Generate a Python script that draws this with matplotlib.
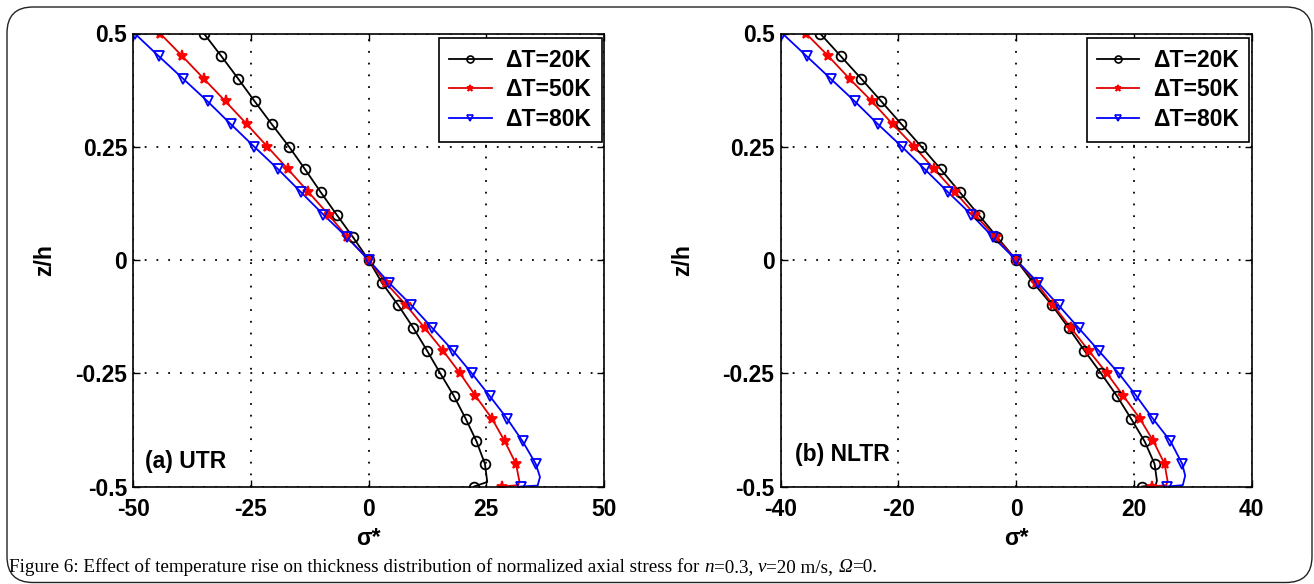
import matplotlib
matplotlib.use("Agg")
import matplotlib.pyplot as plt
import matplotlib.patches as mpatches
from matplotlib.transforms import IdentityTransform
from matplotlib.ticker import FixedLocator, FixedFormatter

# ---------------- data ----------------
z = [0.5, 0.45, 0.4, 0.35, 0.3, 0.25, 0.2, 0.15, 0.1, 0.05, 0.0,
     -0.05, -0.1, -0.15, -0.2, -0.25, -0.3, -0.35, -0.4, -0.45, -0.5]

series_labels = ["\u0394T=20K", "\u0394T=50K", "\u0394T=80K"]

# (a) UTR
utr_20 = [-35.0, -31.3, -27.7, -24.2, -20.6, -16.9, -13.5, -10.2, -6.8, -3.3, 0.0,
          2.8, 6.3, 9.5, 12.4, 15.2, 18.1, 20.6, 22.9, 24.7, 22.4]
utr_50 = [-44.3, -39.6, -35.0, -30.4, -25.9, -21.5, -17.1, -12.8, -8.5, -4.5, 0.0,
          3.6, 8.0, 11.9, 15.8, 19.4, 22.7, 26.2, 28.9, 31.3, 28.4]
utr_80 = [-49.7, -44.6, -39.4, -34.2, -29.3, -24.3, -19.2, -14.4, -9.6, -4.6, 0.0,
          4.3, 9.1, 13.5, 17.9, 21.9, 25.7, 29.4, 32.7, 35.5, 32.3]
# line-only points near the bottom surface (bend before the last marker)
utr_hook_z = [[-0.490], [-0.487, -0.497], [-0.479, -0.498]]
utr_hook_s = [[25.2], [32.0, 31.8], [36.4, 35.9]]

# (b) NLTR
nltr_20 = [-33.3, -29.8, -26.3, -22.9, -19.5, -16.1, -12.8, -9.6, -6.4, -3.2, 0.0,
           2.9, 6.1, 8.9, 11.6, 14.4, 17.1, 19.5, 21.8, 23.5, 21.4]
nltr_50 = [-35.7, -31.9, -28.3, -24.5, -21.0, -17.3, -13.9, -10.4, -7.0, -3.5, 0.0,
           3.4, 6.3, 9.3, 12.3, 15.4, 18.2, 21.0, 23.3, 25.2, 23.1]
nltr_80 = [-39.7, -35.6, -31.5, -27.4, -23.5, -19.4, -15.5, -11.6, -7.6, -3.9, 0.0,
           3.7, 7.2, 10.6, 14.0, 17.4, 20.4, 23.2, 26.2, 28.2, 25.6]
nltr_hook_z = [[-0.487, -0.497], [-0.487, -0.497], [-0.476, -0.497]]
nltr_hook_s = [[23.9, 23.7], [25.7, 25.5], [28.7, 28.3]]

utr_xticks = [-50, -25, 0, 25, 50]
utr_xticklabels = ["-50", "-25", "0", "25", "50"]
nltr_xticks = [-40, -20, 0, 20, 40]
nltr_xticklabels = ["-40", "-20", "0", "20", "40"]
yticks = [-0.5, -0.25, 0, 0.25, 0.5]
yticklabels = ["-0.5", "-0.25", "0", "0.25", "0.5"]

panel_titles = ["(a) UTR", "(b) NLTR"]
xlabel = "\u03c3*"
ylabel = "z/h"

caption_parts = [
    ("Figure 6: Effect of temperature rise on thickness distribution of normalized axial stress for ", "normal"),
    ("n", "italic"), ("=0.3, ", "normal"),
    ("\u03bd", "italic"), ("=20 m/s, ", "normal"),
    ("\u03a9", "italic"), ("=0.", "normal"),
]

# ---------------- style ----------------
plt.rcParams["axes.unicode_minus"] = False
W, H = 1314, 584
fig = plt.figure(figsize=(W / 100, H / 100), dpi=100)
fig.patch.set_facecolor("white")

sans = ["Liberation Sans", "DejaVu Sans"]
FS = 16.5

colors = ["#000000", "#e00000", "#0000ff"]
mcolors = ["#000000", "#ff0000", "#0000ff"]
markers = ["o", "*", "v"]
msizes = [7, 8, 7]

ax_l = fig.add_axes([133.3 / W, 1 - 486.5 / H, 470.7 / W, 453 / H])
ax_r = fig.add_axes([780.7 / W, 1 - 486.5 / H, 471.0 / W, 453 / H])

panels = [
    (ax_l, [utr_20, utr_50, utr_80], utr_hook_z, utr_hook_s, utr_xticks, utr_xticklabels, (-50, 50),
     (0.025, 0.055), -0.1876),
    (ax_r, [nltr_20, nltr_50, nltr_80], nltr_hook_z, nltr_hook_s, nltr_xticks, nltr_xticklabels, (-40, 40),
     (0.030, 0.070), -0.2074),
]

for pi, (ax, data, hz, hs, xt, xtl, xlim, tpos, ylx) in enumerate(panels):
    for si, s in enumerate(data):
        lz = z[:-1] + hz[si] + z[-1:]
        ls = s[:-1] + hs[si] + s[-1:]
        ax.plot(ls, lz, color=colors[si], lw=1.3, zorder=3)
        ax.plot(s, z, linestyle="none", marker=markers[si], ms=msizes[si],
                mfc="none" if markers[si] != "*" else mcolors[si],
                mec=mcolors[si], mew=1.3, zorder=4)
        # legend proxy
        ax.plot([], [], color=colors[si], lw=1.3, marker=markers[si],
                ms=5, mfc="none" if markers[si] != "*" else mcolors[si],
                mec=mcolors[si], mew=1.2, label=series_labels[si])
    ax.set_xlim(*xlim)
    ax.set_ylim(-0.5, 0.5)
    ax.xaxis.set_major_locator(FixedLocator(xt))
    ax.xaxis.set_major_formatter(FixedFormatter(xtl))
    ax.yaxis.set_major_locator(FixedLocator(yticks))
    ax.yaxis.set_major_formatter(FixedFormatter(yticklabels))
    ax.grid(True, color="black", linestyle=(0, (1.0, 5.5)), lw=1.3)
    ax.tick_params(direction="in", length=5, width=1, top=True, right=True,
                   labelsize=FS)
    ax.tick_params(axis="x", pad=8.5)
    ax.tick_params(axis="y", pad=4.5)
    for lab in ax.get_xticklabels() + ax.get_yticklabels():
        lab.set_fontfamily(sans)
        lab.set_fontweight("bold")
    for sp in ax.spines.values():
        sp.set_linewidth(1.2)
        sp.set_zorder(5)
    ax.set_xlabel(xlabel, fontsize=FS, fontweight="bold", family=sans, va="center")
    ax.set_ylabel(ylabel, fontsize=FS, fontweight="bold", family=sans, va="center")
    ax.xaxis.set_label_coords(0.5, -0.1137)
    ax.yaxis.set_label_coords(ylx, 0.5)
    ax.text(tpos[0], tpos[1], panel_titles[pi], transform=ax.transAxes,
            fontsize=FS, fontweight="bold", family=sans, va="center", ha="left")
    leg = ax.legend(loc="upper right", bbox_to_anchor=(1 - 2.3 / 470.7, 1 - 4.8 / 453),
                    borderaxespad=0, fancybox=False, framealpha=1, edgecolor="black",
                    prop={"family": sans, "weight": "bold", "size": FS},
                    handlelength=1.85, handletextpad=0.6, labelspacing=0.3,
                    borderpad=0.45)
    leg.get_frame().set_linewidth(1.2)
    leg.set_zorder(6)

# rounded outer frame
frame = mpatches.FancyBboxPatch((7, 1.5), 1305, 575.5,
                                boxstyle="round,pad=0,rounding_size=26",
                                transform=IdentityTransform(), fill=False,
                                ec="#222222", lw=1.0)
fig.patches.append(frame)

# caption with mixed italics
fig.canvas.draw()
r = fig.canvas.get_renderer()
x = 9.0
for txt, style in caption_parts:
    t = fig.text(x / W, 16.5 / H, txt, transform=fig.transFigure,
                 family=["Liberation Serif", "DejaVu Serif"], style=style,
                 fontsize=13.8, va="center", ha="left")
    bb = t.get_window_extent(r)
    x = bb.x1

fig.savefig("out.png", dpi=100, facecolor="white")
